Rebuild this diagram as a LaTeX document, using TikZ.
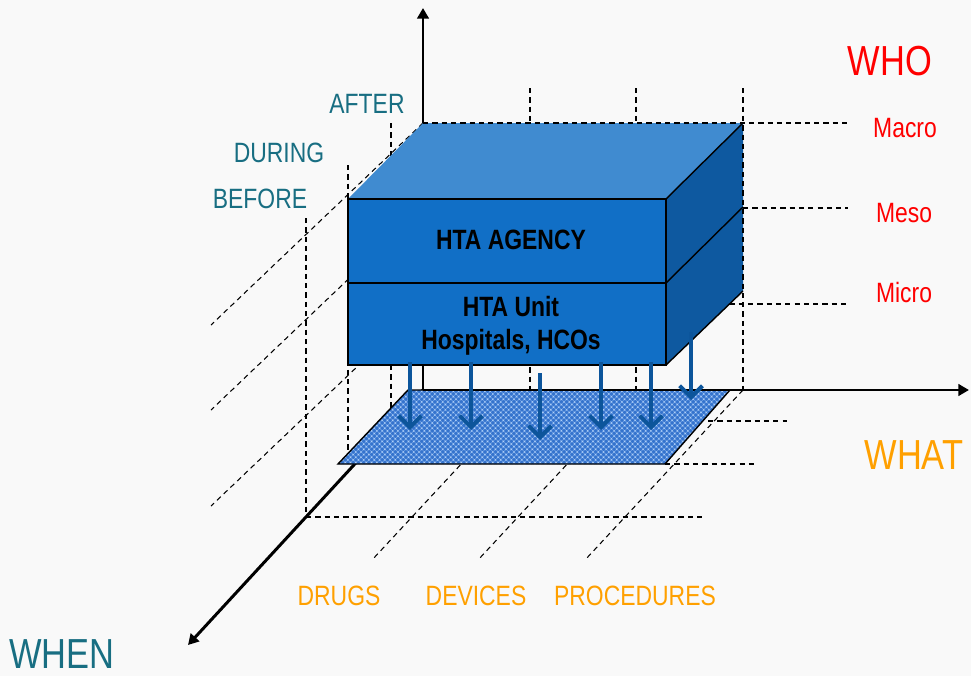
\documentclass[tikz,border=0pt]{standalone}
\usepackage{fontspec}
\usepackage{tikz}
\usetikzlibrary{arrows.meta, patterns}
\newfontfamily\narrowfont{Liberation Sans}[FakeStretch=0.82]
\definecolor{paper}{RGB}{249,249,249}
\definecolor{boxtop}{RGB}{64,139,208}
\definecolor{boxfront}{RGB}{17,111,198}
\definecolor{boxside}{RGB}{14,89,160}
\definecolor{dropblue}{RGB}{12,85,155}
\definecolor{planeblue}{RGB}{52,115,205}
\definecolor{planemesh}{RGB}{105,155,225}
\definecolor{planedot}{RGB}{175,208,248}
\definecolor{whenteal}{RGB}{24,110,130}
\definecolor{whatorange}{RGB}{255,160,0}
\definecolor{whored}{RGB}{255,0,0}

\begin{document}
\begin{tikzpicture}[x=0.02cm, y=-0.02cm,
    gridline/.style={black, line width=0.6pt, dash pattern=on 3pt off 2.3pt},
    axis/.style={black, line width=1.7pt, -{Triangle[length=6pt,width=6.5pt]}},
    drop/.style={dropblue, line width=2.3pt, -{Straight Barb[length=6.5pt,width=13pt]}},
    boxedge/.style={draw=black, line width=0.8pt},
    lbl/.style={font=\narrowfont\fontsize{15.9pt}{19pt}\selectfont, anchor=base, inner sep=0pt},
    biglbl/.style={font=\narrowfont\fontsize{23.9pt}{28pt}\selectfont, anchor=base, inner sep=0pt},
    boxlbl/.style={font=\narrowfont\bfseries\fontsize{15.9pt}{19pt}\selectfont, anchor=base, inner sep=0pt}]
    \fill[paper] (0,0) rectangle (971,676);
    \useasboundingbox (0,0) rectangle (971,676);

    \coordinate (origin) at (423,390);
    \coordinate (whotip) at (423,8);
    \coordinate (whattip) at (969,390);
    \coordinate (whentip) at (188,645);

    \foreach \y in {123,208,304}{
      \draw[gridline] (423,\y) -- ++(-212,202);
    }
    \foreach \x in {530,636,743}{
      \draw[gridline] (\x,390) -- ++(-158,170);
    }
    \foreach \x in {530,636}{
      \draw[gridline] (\x,88) -- (\x,390);
    }
    \foreach \x/\ya/\yb in {306/218/517, 348/165/455, 391/123/408}{
      \draw[gridline] (\x,\ya) -- (\x,\yb);
    }
    \draw[gridline] (306,517) -- (702,517);
    \draw[gridline] (665,464) -- (755,464);
    \draw[gridline] (708,421) -- (787,421);
    \draw[gridline] (720,304) -- (848,304);

    \draw[axis] (origin) -- (whentip);
    \draw[axis] (origin) -- (whotip);

    \coordinate (ftl) at (348,199);
    \coordinate (fml) at (348,283);
    \coordinate (fbl) at (348,365);
    \coordinate (ftr) at (666,199);
    \coordinate (fmr) at (666,283);
    \coordinate (fbr) at (666,365);
    \coordinate (btl) at (423,123);
    \coordinate (btr) at (743,123);
    \coordinate (bmr) at (743,207);
    \coordinate (bbr) at (743,291);
    \fill[boxtop] (ftl) -- (ftr) -- (btr) -- (btl) -- cycle;
    \fill[boxside] (ftr) -- (btr) -- (bbr) -- (fbr) -- cycle;
    \draw[boxedge] (ftr) -- (btr);
    \draw[boxedge] (fmr) -- (bmr);
    \draw[boxedge] (fbr) -- (bbr);
    \path[boxedge, fill=boxfront] (ftl) rectangle (fbr);
    \draw[boxedge] (fml) -- (fmr);

    \coordinate (pfl) at (338,464);
    \coordinate (pfr) at (665,464);
    \coordinate (pbr) at (730,390);
    \coordinate (pbl) at (408,390);
    \fill[planeblue] (pfl) -- (pfr) -- (pbr) -- (pbl) -- cycle;
    \fill[pattern=crosshatch, pattern color=planemesh] (pfl) -- (pfr) -- (pbr) -- (pbl) -- cycle;
    \fill[pattern=crosshatch dots, pattern color=planedot] (pfl) -- (pfr) -- (pbr) -- (pbl) -- cycle;
    \draw[boxedge] (pfl) -- (pfr) -- (pbr) -- (pbl) -- cycle;

    \draw[axis] (origin) -- (whattip);

    \draw[gridline] (423,123) -- (848,123);
    \draw[gridline] (743,88) -- (743,390);
    \draw[gridline] (743,208) -- (848,208);

    \foreach \i/\x/\ya/\yb in {1/410/362/430, 2/471/362/430, 3/540/373/440, 4/601/362/430, 5/651/362/430, 6/691/332/400}{
      \coordinate (drop\i s) at (\x,\ya);
      \coordinate (drop\i e) at (\x,\yb);
      \draw[drop] (drop\i s) -- (drop\i e);
    }

    \node[boxlbl] (agency) at (511,249) {HTA AGENCY};
    \node[boxlbl] (unit) at (511,316) {HTA Unit};
    \node[boxlbl] (hospitals) at (511,349) {Hospitals, HCOs};

    \node[lbl, text=whenteal] (after) at (367,113) {AFTER};
    \node[lbl, text=whenteal] (during) at (279,162) {DURING};
    \node[lbl, text=whenteal] (before) at (260,208) {BEFORE};
    \node[biglbl, text=whenteal] (when) at (62,668) {WHEN};

    \node[biglbl, text=whored] (who) at (890,75) {WHO};
    \node[lbl, text=whored] (macro) at (905,137) {Macro};
    \node[lbl, text=whored] (meso) at (904,222) {Meso};
    \node[lbl, text=whored] (micro) at (904,302) {Micro};

    \node[biglbl, text=whatorange] (what) at (914,469) {WHAT};
    \node[lbl, text=whatorange] (drugs) at (339,605) {DRUGS};
    \node[lbl, text=whatorange] (devices) at (476,605) {DEVICES};
    \node[lbl, text=whatorange] (procedures) at (635,605) {PROCEDURES};
\end{tikzpicture}
\end{document}
